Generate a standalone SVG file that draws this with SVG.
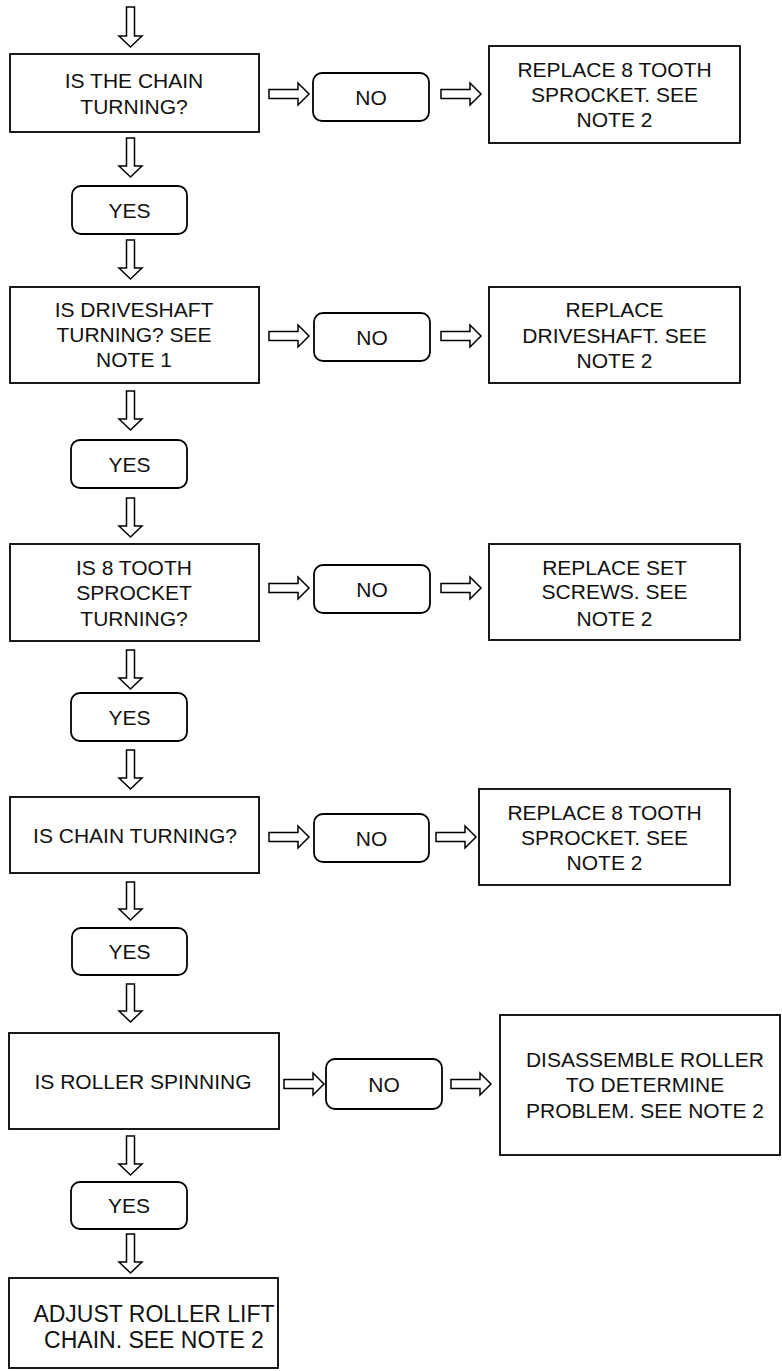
<svg xmlns="http://www.w3.org/2000/svg" width="782" height="1371" viewBox="0 0 782 1371">
<style>
.box{fill:#fff;stroke:#000;stroke-width:1.8}
.rbox{fill:#fff;stroke:#000;stroke-width:1.8}
.arr{fill:#fff;stroke:#000;stroke-width:1.5;stroke-linejoin:miter}
text{font-family:"Liberation Sans",Arial,sans-serif;font-size:21px;fill:#111;text-anchor:middle}
</style>
<rect width="782" height="1371" fill="#fff"/>
<g id="connectors">
<path class="arr" d="M126.5,7 H134.5 V36 H142 L130.5,47 L119,36 H126.5 Z"/>
<path class="arr" d="M126.5,138 H134.5 V166 H142 L130.5,177 L119,166 H126.5 Z"/>
<path class="arr" d="M126.5,240 H134.5 V268 H142 L130.5,279 L119,268 H126.5 Z"/>
<path class="arr" d="M126.5,391 H134.5 V419 H142 L130.5,430 L119,419 H126.5 Z"/>
<path class="arr" d="M126.5,498 H134.5 V526 H142 L130.5,537 L119,526 H126.5 Z"/>
<path class="arr" d="M126.5,650 H134.5 V678 H142 L130.5,689 L119,678 H126.5 Z"/>
<path class="arr" d="M126.5,750 H134.5 V778 H142 L130.5,789 L119,778 H126.5 Z"/>
<path class="arr" d="M126.5,882 H134.5 V909 H142 L130.5,920 L119,909 H126.5 Z"/>
<path class="arr" d="M126.5,984 H134.5 V1011 H142 L130.5,1022 L119,1011 H126.5 Z"/>
<path class="arr" d="M126.5,1136 H134.5 V1164 H142 L130.5,1175 L119,1164 H126.5 Z"/>
<path class="arr" d="M126.5,1234 H134.5 V1262 H142 L130.5,1273 L119,1262 H126.5 Z"/>
<path class="arr" d="M269,89.5 H298 V83 L309,94 L298,105 V98.5 H269 Z"/>
<path class="arr" d="M441,89.5 H470 V83 L481,94 L470,105 V98.5 H441 Z"/>
<path class="arr" d="M269,331.5 H298 V325 L309,336 L298,347 V340.5 H269 Z"/>
<path class="arr" d="M441,331.5 H470 V325 L481,336 L470,347 V340.5 H441 Z"/>
<path class="arr" d="M269,583.5 H298 V577 L309,588 L298,599 V592.5 H269 Z"/>
<path class="arr" d="M441,583.5 H470 V577 L481,588 L470,599 V592.5 H441 Z"/>
<path class="arr" d="M269,832.5 H298 V826 L309,837 L298,848 V841.5 H269 Z"/>
<path class="arr" d="M436,832.5 H465 V826 L476,837 L465,848 V841.5 H436 Z"/>
<path class="arr" d="M284,1079.5 H313 V1073 L324,1084 L313,1095 V1088.5 H284 Z"/>
<path class="arr" d="M451,1079.5 H480 V1073 L491,1084 L480,1095 V1088.5 H451 Z"/>
</g>
<g id="q1"><rect class="box" x="10" y="54" width="249" height="78"/><text x="134" y="88">IS THE CHAIN</text><text x="134" y="114">TURNING?</text></g>
<g id="no1"><rect class="rbox" x="313" y="73" width="116" height="48" rx="9"/><text x="371" y="104.5">NO</text></g>
<g id="r1"><rect class="box" x="489" y="46" width="251" height="97"/><text x="614.5" y="77">REPLACE 8 TOOTH</text><text x="614.5" y="102">SPROCKET. SEE</text><text x="614.5" y="127">NOTE 2</text></g>
<g id="yes1"><rect class="rbox" x="72" y="186" width="115" height="48" rx="9"/><text x="129.5" y="217.5">YES</text></g>

<g id="q2"><rect class="box" x="10" y="287" width="249" height="96"/><text x="134" y="317">IS DRIVESHAFT</text><text x="134" y="342">TURNING? SEE</text><text x="134" y="367">NOTE 1</text></g>
<g id="no2"><rect class="rbox" x="314" y="313" width="116" height="48" rx="9"/><text x="372" y="344.5">NO</text></g>
<g id="r2"><rect class="box" x="489" y="287" width="251" height="96"/><text x="614.5" y="317">REPLACE</text><text x="614.5" y="343">DRIVESHAFT. SEE</text><text x="614.5" y="368">NOTE 2</text></g>
<g id="yes2"><rect class="rbox" x="71" y="440" width="116" height="48" rx="9"/><text x="129.5" y="471.5">YES</text></g>

<g id="q3"><rect class="box" x="10" y="544" width="249" height="97"/><text x="134" y="575">IS 8 TOOTH</text><text x="134" y="600">SPROCKET</text><text x="134" y="626">TURNING?</text></g>
<g id="no3"><rect class="rbox" x="314" y="565" width="116" height="48" rx="9"/><text x="372" y="596.5">NO</text></g>
<g id="r3"><rect class="box" x="489" y="544" width="251" height="96"/><text x="614.5" y="575">REPLACE SET</text><text x="614.5" y="599">SCREWS. SEE</text><text x="614.5" y="626">NOTE 2</text></g>
<g id="yes3"><rect class="rbox" x="71" y="693" width="116" height="48" rx="9"/><text x="129.5" y="724.5">YES</text></g>

<g id="q4"><rect class="box" x="10" y="797" width="249" height="76"/><text x="135" y="843">IS CHAIN TURNING?</text></g>
<g id="no4"><rect class="rbox" x="314" y="814" width="115" height="48" rx="9"/><text x="371.5" y="845.5">NO</text></g>
<g id="r4"><rect class="box" x="479" y="789" width="251" height="96"/><text x="604.5" y="820">REPLACE 8 TOOTH</text><text x="604.5" y="845">SPROCKET. SEE</text><text x="604.5" y="870">NOTE 2</text></g>
<g id="yes4"><rect class="rbox" x="72" y="928" width="115" height="47" rx="9"/><text x="129.5" y="959">YES</text></g>

<g id="q5"><rect class="box" x="9" y="1033" width="270" height="96"/><text x="143" y="1089">IS ROLLER SPINNING</text></g>
<g id="no5"><rect class="rbox" x="326" y="1059" width="116" height="50" rx="9"/><text x="384" y="1091.5">NO</text></g>
<g id="r5"><rect class="box" x="500" y="1015" width="280" height="140"/><text x="645" y="1067">DISASSEMBLE ROLLER</text><text x="645" y="1092">TO DETERMINE</text><text x="645" y="1118">PROBLEM. SEE NOTE 2</text></g>
<g id="yes5"><rect class="rbox" x="71" y="1182" width="116" height="47" rx="9"/><text x="129" y="1213">YES</text></g>

<g id="end"><rect class="box" x="9" y="1278" width="269" height="90"/><text x="154" y="1322" style="font-size:23px">ADJUST ROLLER LIFT</text><text x="154" y="1348" style="font-size:23px">CHAIN. SEE NOTE 2</text></g>
</svg>
